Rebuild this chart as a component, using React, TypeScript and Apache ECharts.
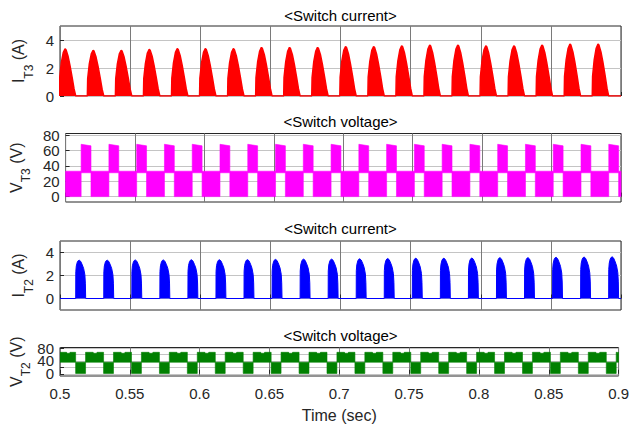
import React, { useEffect, useRef } from "react";
import * as echarts from "echarts";

const FONT = '"Liberation Sans", Arial, sans-serif';
const X_MIN = 0.5;
const X_MAX = 0.9;
const X_STEP = 0.05;

// Titles / labels
const panelTitles = ["<Switch current>", "<Switch voltage>", "<Switch current>", "<Switch voltage>"];
const xAxisTitle = "Time (sec)";

// y ticks
const yTicksIT3 = [0, 2, 4];
const yTicksVT3 = [0, 20, 40, 60, 80];
const yTicksIT2 = [0, 2, 4];
const yTicksVT2 = [0, 20, 40, 60, 80];
const yLabelsVT2 = [0, 40, 80];

// T2 conduction intervals (blue pulses)
const t2On = [0.5112, 0.5312, 0.5512, 0.5712, 0.5912, 0.6112, 0.6312, 0.6512, 0.6712, 0.6912,
  0.7112, 0.7312, 0.7512, 0.7712, 0.7912, 0.8112, 0.8312, 0.8512, 0.8712, 0.8912];
const t2Off = [0.5183, 0.5383, 0.5583, 0.5783, 0.5983, 0.6183, 0.6383, 0.6583, 0.6783, 0.6983,
  0.7183, 0.7383, 0.7583, 0.7783, 0.7983, 0.8183, 0.8383, 0.8583, 0.8783, 0.8983];

// T3 current pulses (red)
const t3On = [0.4995, 0.5195, 0.5395, 0.5595, 0.5795, 0.5995, 0.6195, 0.6395, 0.6595, 0.6795,
  0.6995, 0.7195, 0.7395, 0.7595, 0.7795, 0.7995, 0.8195, 0.8395, 0.8595, 0.8795];
const t3Off = [0.5112, 0.5312, 0.5512, 0.5712, 0.5912, 0.6112, 0.6312, 0.6512, 0.6712, 0.6912,
  0.7112, 0.7312, 0.7512, 0.7712, 0.7912, 0.8112, 0.8312, 0.8512, 0.8712, 0.8912];

const iT3Peak = [3.37, 3.27, 3.27, 3.34, 3.39, 3.39, 3.39, 3.47, 3.47, 3.47,
  3.54, 3.54, 3.59, 3.64, 3.64, 3.59, 3.59, 3.64, 3.71, 3.71];
// pulse envelope: [fraction of pulse width, fraction of peak]
const iT3Shape = [[0, 0], [0.02, 0.38], [0.12, 0.7], [0.24, 0.92], [0.35, 1], [0.41, 0.98],
  [0.53, 0.85], [0.65, 0.65], [0.78, 0.4], [0.9, 0.15], [1, 0]];

const iT2Peak = [3.33, 3.33, 3.35, 3.35, 3.37, 3.37, 3.38, 3.4, 3.42, 3.42,
  3.45, 3.47, 3.5, 3.5, 3.52, 3.55, 3.55, 3.58, 3.6, 3.62];
const iT2Shape = [[0, 0], [0.01, 0.7], [0.06, 0.85], [0.16, 0.95], [0.26, 0.99], [0.36, 1],
  [0.5, 0.97], [0.66, 0.88], [0.8, 0.78], [0.92, 0.62], [0.97, 0.4], [1, 0]];

// voltage bands: bottom value, top profile [fraction, value]
const vT3LowBottom = 0;
const vT3LowTop = [[0, 33], [1, 33]];
const vT3HighBottom = 31;
const vT3HighTop = [[0, 68], [1, 66]];
const vT2LowBottom = 1;
const vT2LowTop = [[0, 36], [1, 36]];
const vT2HighBottom = 36;
const vT2HighTop = [[0, 67], [0.42, 67], [0.46, 64], [0.6, 64], [0.64, 67], [1, 67]];

function pulseData(starts: number[], ends: number[], peaks: number[], shape: number[][]) {
  const d: number[][] = [];
  if (starts[0] > X_MIN) d.push([X_MIN, 0]);
  for (let k = 0; k < starts.length; k++) {
    const w = ends[k] - starts[k];
    for (const [u, f] of shape) d.push([starts[k] + u * w, peaks[k] * f]);
  }
  d.push([X_MAX, 0]);
  return d;
}

function onBlocks() {
  return t2On.map((t, k) => [t, t2Off[k]]);
}
function offBlocks() {
  const b: number[][] = [[X_MIN, t2On[0]]];
  for (let k = 0; k < t2Off.length - 1; k++) b.push([t2Off[k], t2On[k + 1]]);
  b.push([t2Off[t2Off.length - 1], X_MAX]);
  return b;
}

function blockSeries(idx: number, data: number[][], bottom: number, top: number[][], color: string) {
  return {
    type: "custom",
    xAxisIndex: idx,
    yAxisIndex: idx,
    clip: true,
    data,
    renderItem: (params: any, api: any) => {
      const t0 = api.value(0);
      const t1 = api.value(1);
      const pts: number[][] = [api.coord([t0, bottom])];
      for (const [u, v] of top) pts.push(api.coord([t0 + u * (t1 - t0), v]));
      pts.push(api.coord([t1, bottom]));
      return {
        type: "polygon",
        shape: { points: pts },
        style: { fill: color, stroke: color, lineWidth: 0.6 },
      };
    },
  };
}

const GRID_LEFT = 60;
const grids = [
  { top: 26, height: 70 },
  { top: 133.5, height: 68.5 },
  { top: 241, height: 69 },
  { top: 347.5, height: 28.5 },
];

function yName(base: string, sub: string, unit: string) {
  return `{a|${base}}{s|${sub}}{a| ${unit}}`;
}

function yAxis(i: number, min: number, max: number, ticks: number[], labels: number[] | null, name: string, gap: number) {
  return {
    type: "value",
    gridIndex: i,
    min,
    max,
    axisLine: { show: false },
    axisTick: { show: true, inside: true, length: 4, customValues: ticks, lineStyle: { color: "#262626" } },
    axisLabel: {
      show: labels !== null,
      customValues: labels || ticks,
      color: "#262626",
      fontSize: 15,
      fontFamily: FONT,
      margin: 6,
    },
    splitLine: { show: true, lineStyle: { color: "#c4c4c4", width: 1 } },
    name,
    nameLocation: "middle",
    nameRotate: 90,
    nameGap: gap,
    nameTextStyle: {
      color: "#262626",
      fontFamily: FONT,
      rich: {
        a: { fontSize: 16, lineHeight: 16, verticalAlign: "top", fontFamily: FONT, color: "#262626" },
        s: { fontSize: 12, lineHeight: 24, verticalAlign: "bottom", fontFamily: FONT, color: "#262626" },
      },
    },
  };
}

export default function App() {
  const ref = useRef<HTMLDivElement>(null);
  useEffect(() => {
    if (!ref.current) return;
    const chart = echarts.init(ref.current, null, { renderer: "svg" });
    const xAxes = grids.map((_, i) => ({
      type: "value",
      gridIndex: i,
      min: X_MIN,
      max: X_MAX,
      interval: X_STEP,
      axisLine: { show: false },
      axisTick: { show: true, inside: true, length: 4, lineStyle: { color: "#262626" } },
      axisLabel: {
        show: i === 3,
        showMinLabel: true,
        showMaxLabel: true,
        color: "#262626",
        fontSize: 15,
        fontFamily: FONT,
        margin: 10,
        formatter: (v: number) => String(+v.toFixed(2)),
      },
      splitLine: { show: true, lineStyle: { color: "#7a7a7a", width: 1 } },
      ...(i === 3
        ? {
            name: xAxisTitle,
            nameLocation: "middle",
            nameGap: 31,
            nameTextStyle: { color: "#262626", fontSize: 16, fontFamily: FONT },
          }
        : {}),
    }));
    const titles = panelTitles.map((t, i) => ({
      type: "text",
      x: 340.5,
      y: [15, 121.5, 228, 335][i],
      style: { text: t, fill: "#000", font: `15px ${FONT}`, textAlign: "center", textVerticalAlign: "middle" },
      z: 100,
    }));
    const option: any = {
      animation: false,
      backgroundColor: "#ffffff",
      grid: grids.map((g) => ({
        left: GRID_LEFT,
        right: 11,
        top: g.top,
        height: g.height,
        show: true,
        borderColor: "#262626",
        borderWidth: 1,
        backgroundColor: "#ffffff",
      })),
      xAxis: xAxes,
      yAxis: [
        yAxis(0, 0, 5, yTicksIT3, yTicksIT3, yName("I", "T3", "(A)"), 11),
        yAxis(1, -7, 82, yTicksVT3, yTicksVT3, yName("V", "T3", "(V)"), 11),
        yAxis(2, -1, 5, yTicksIT2, yTicksIT2, yName("I", "T2", "(A)"), 11),
        yAxis(3, -7, 82, yTicksVT2, null, yName("V", "T2", "(V)"), 28),
      ],
      graphic: titles,
      series: [
        {
          type: "line",
          xAxisIndex: 0,
          yAxisIndex: 0,
          data: pulseData(t3On, t3Off, iT3Peak, iT3Shape),
          showSymbol: false,
          clip: true,
          lineStyle: { color: "#ff0000", width: 1.5 },
          areaStyle: { color: "#ff0000", opacity: 1 },
          z: 3,
        },
        blockSeries(1, offBlocks(), vT3LowBottom, vT3LowTop, "#ff00ff"),
        blockSeries(1, onBlocks(), vT3HighBottom, vT3HighTop, "#ff00ff"),
        {
          type: "line",
          xAxisIndex: 2,
          yAxisIndex: 2,
          data: pulseData(t2On, t2Off, iT2Peak, iT2Shape),
          showSymbol: false,
          clip: true,
          lineStyle: { color: "#0000ff", width: 1 },
          areaStyle: { color: "#0000ff", opacity: 1 },
          z: 3,
        },
        blockSeries(3, onBlocks(), vT2LowBottom, vT2LowTop, "#008000"),
        blockSeries(3, offBlocks(), vT2HighBottom, vT2HighTop, "#008000"),
      ],
    };
    chart.setOption(option);
    // dense tick labels of the last panel, placed through the axis scale
    const labelTexts = yLabelsVT2.map((v) => ({
      type: "text",
      x: GRID_LEFT - 6,
      y: chart.convertToPixel({ yAxisIndex: 3 }, v) as number,
      style: {
        text: String(v),
        fill: "#262626",
        font: `15px ${FONT}`,
        textAlign: "right",
        textVerticalAlign: "middle",
      },
      z: 100,
    }));
    chart.setOption({ graphic: [...titles, ...labelTexts] });
    return () => chart.dispose();
  }, []);
  return (
    <div
      ref={ref}
      style={{ position: "fixed", left: 0, top: 0, width: 632, height: 427, background: "#fff" }}
    />
  );
}
